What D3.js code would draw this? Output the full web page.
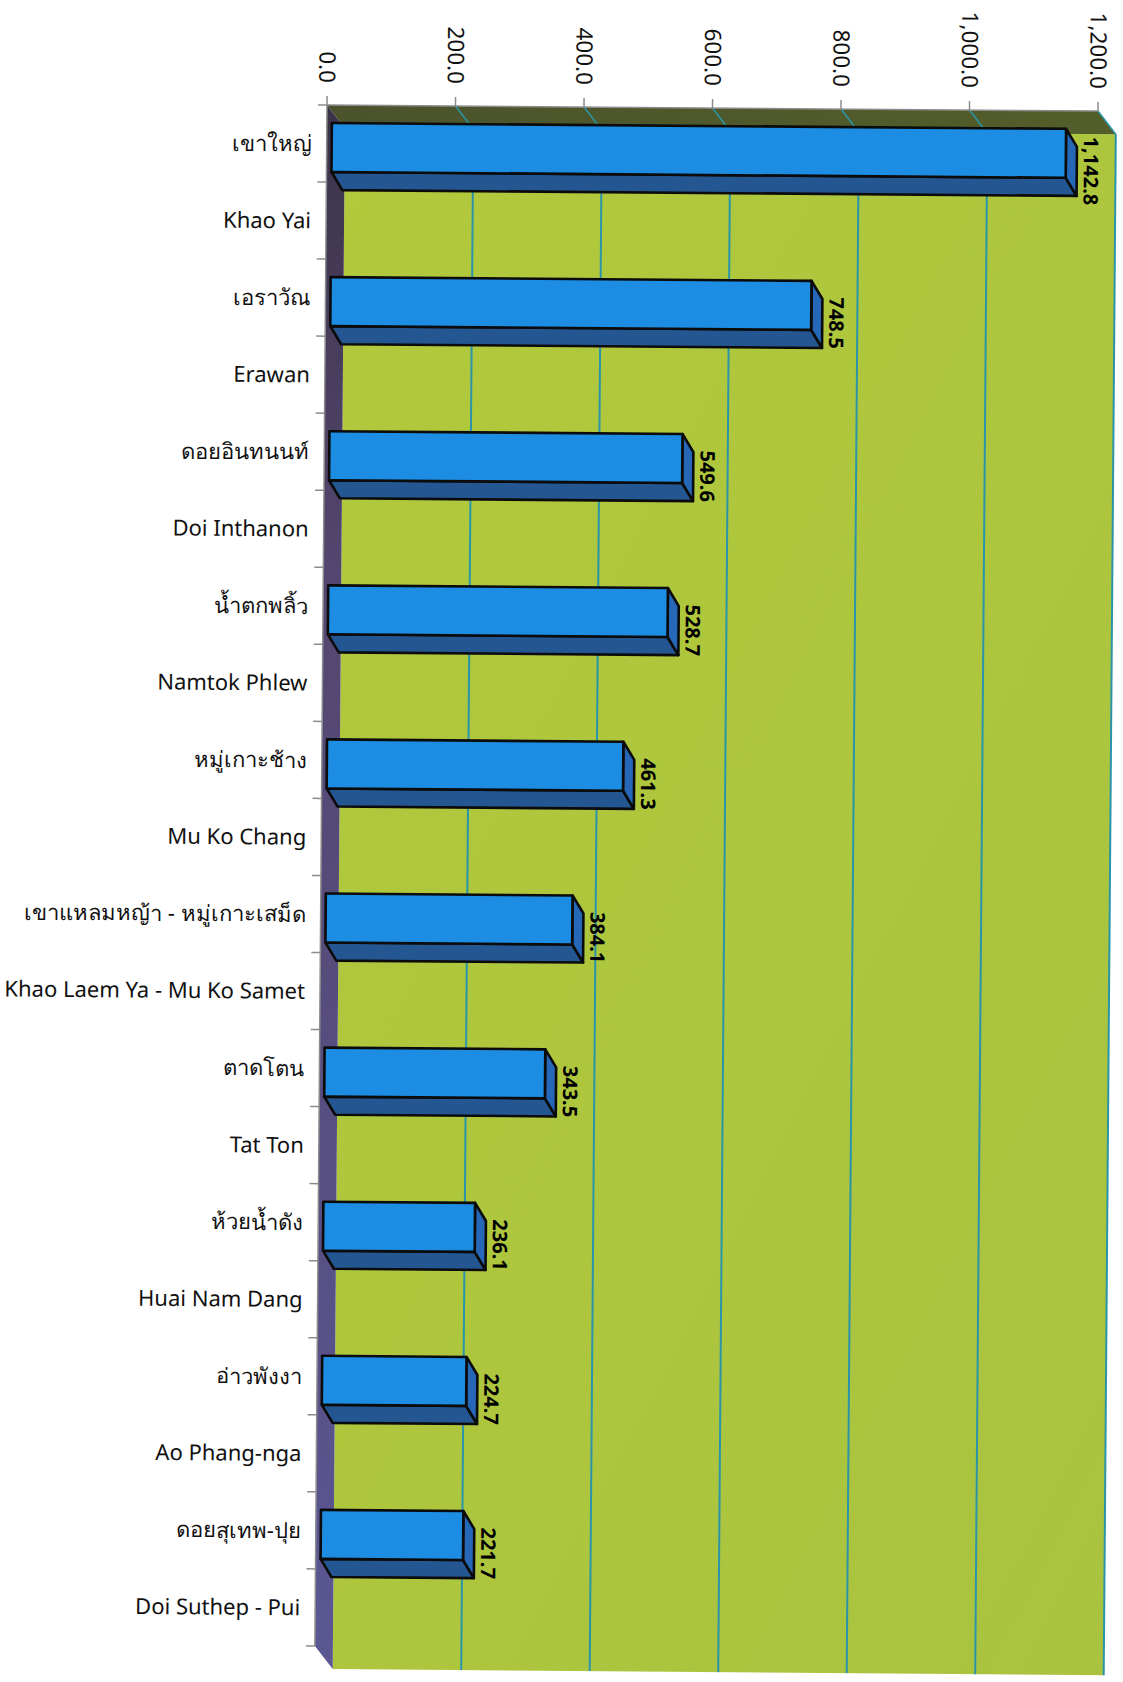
<!DOCTYPE html>
<html><head><meta charset="utf-8">
<script src="https://cdn.jsdelivr.net/npm/d3@7"></script>
<style>body{margin:0;background:#fff} svg{display:block}</style>
</head><body><svg id="c" width="1123" height="1682"></svg>
<script>
const thaiNames = ["เขาใหญ่","เอราวัณ","ดอยอินทนนท์","น้ำตกพลิ้ว","หมู่เกาะช้าง","เขาแหลมหญ้า - หมู่เกาะเสม็ด","ตาดโตน","ห้วยน้ำดัง","อ่าวพังงา","ดอยสุเทพ-ปุย"];
const englishNames = ["Khao Yai","Erawan","Doi Inthanon","Namtok Phlew","Mu Ko Chang","Khao Laem Ya - Mu Ko Samet","Tat Ton","Huai Nam Dang","Ao Phang-nga","Doi Suthep - Pui"];
const values = [1142.8,748.5,549.6,528.7,461.3,384.1,343.5,236.1,224.7,221.7];
const valueTicks = [0,200,400,600,800,1000,1200];

const rows = [];
thaiNames.forEach((t,i)=>{ rows.push({key:'t'+i,label:t}); rows.push({key:'e'+i,label:englishNames[i]}); });

const W=771, H=1541, DX=18, DY=23;
const BX=11, BY=18, BH=49, BTOP=18, BOFF=5;
const x = d3.scaleLinear().domain([0,1200]).range([0,W]);
const y = d3.scaleBand().domain(rows.map(r=>r.key)).range([0,H]);
const fmt = d3.format(",.1f");
const FONT = "Tahoma, 'Noto Sans', 'DejaVu Sans', sans-serif";

const svg = d3.select('#c');
const defs = svg.append('defs');
const gW = defs.append('linearGradient').attr('id','wall').attr('x1',0).attr('y1',0).attr('x2',0).attr('y2',1);
gW.append('stop').attr('offset',0).attr('stop-color','#3b3348');
gW.append('stop').attr('offset',0.3).attr('stop-color','#54466f');
gW.append('stop').attr('offset',1).attr('stop-color','#5a5793');
const gG = defs.append('linearGradient').attr('id','green').attr('x1',0).attr('y1',0).attr('x2',1).attr('y2',1);
gG.append('stop').attr('offset',0).attr('stop-color','#b2c93c');
gG.append('stop').attr('offset',0.5).attr('stop-color','#aec63d');
gG.append('stop').attr('offset',1).attr('stop-color','#a9c340');
const gF = defs.append('linearGradient').attr('id','floor').attr('x1',0).attr('y1',0).attr('x2',1).attr('y2',0);
gF.append('stop').attr('offset',0).attr('stop-color','#4a532c');
gF.append('stop').attr('offset',1).attr('stop-color','#535e2a');

const g = svg.append('g').attr('transform','translate(327,105) rotate(0.45)');
const line = d3.line();

// back wall
g.append('rect').attr('x',DX).attr('y',DY).attr('width',W).attr('height',H).attr('fill','url(#green)');
// floor (top band)
g.append('path').attr('d', line([[0,0],[W,0],[W+DX,DY],[DX,DY]])+'Z').attr('fill','url(#floor)');
// left wall
g.append('path').attr('d', line([[0,0],[DX,DY],[DX,H+DY],[0,H]])+'Z').attr('fill','url(#wall)');

// gridlines
valueTicks.filter(t=>t>0).forEach(t=>{
  g.append('line').attr('x1',DX+x(t)).attr('x2',DX+x(t)).attr('y1',DY).attr('y2',DY+H)
   .attr('stroke','#2a95a8').attr('stroke-width',2);
  g.append('line').attr('x1',x(t)).attr('x2',x(t)+DX).attr('y1',0).attr('y2',DY)
   .attr('stroke','#2a95a8').attr('stroke-width',1.5);
});

// axis lines and ticks
g.append('line').attr('x1',0).attr('x2',W).attr('y1',0).attr('y2',0).attr('stroke','#8c8c8c').attr('stroke-width',1.5);
g.append('line').attr('x1',0).attr('x2',0).attr('y1',0).attr('y2',H).attr('stroke','#8c8c8c').attr('stroke-width',1.5);
valueTicks.forEach(t=>{
  g.append('line').attr('x1',x(t)).attr('x2',x(t)).attr('y1',-9).attr('y2',0).attr('stroke','#8c8c8c').attr('stroke-width',1.5);
  g.append('text').attr('transform',`translate(${x(t)-8},-22) rotate(90)`)
   .attr('text-anchor','end').attr('font-family',FONT).attr('font-size',22.5).attr('fill','#111')
   .text(fmt(t));
});
d3.range(rows.length+1).forEach(k=>{
  const yy = k*y.step();
  g.append('line').attr('x1',-9).attr('x2',0).attr('y1',yy).attr('y2',yy).attr('stroke','#8c8c8c').attr('stroke-width',1.5);
});

// category labels
rows.forEach(r=>{
  g.append('text').attr('x',-15).attr('y',y(r.key)+y.bandwidth()/2).attr('dy','0.36em')
   .attr('text-anchor','end').attr('font-family',FONT).attr('font-size',22).attr('fill','#111')
   .text(r.label);
});

// bars
values.forEach((v,i)=>{
  const yt = y('t'+i)+BTOP, yb = yt+BH;
  const x0 = BOFF, x1 = x(v)+BOFF;
  const bg = g.append('g').attr('stroke','#0b0b0b').attr('stroke-width',2.6).attr('stroke-linejoin','round');
  bg.append('path').attr('d', line([[x0,yb],[x1,yb],[x1+BX,yb+BY],[x0+BX,yb+BY]])+'Z').attr('fill','#245792');
  bg.append('path').attr('d', line([[x1,yt],[x1+BX,yt+BY],[x1+BX,yb+BY],[x1,yb]])+'Z').attr('fill','#2767b8');
  bg.append('rect').attr('x',x0).attr('y',yt).attr('width',x1-x0).attr('height',BH).attr('fill','#1c8de2');
  g.append('text').attr('transform',`translate(${x1+BX+7},${yt+42}) rotate(90)`)
   .attr('text-anchor','middle').attr('font-family',FONT).attr('font-weight','bold')
   .attr('font-size',20).attr('fill','#000').text(fmt(v));
});
</script></body></html>
